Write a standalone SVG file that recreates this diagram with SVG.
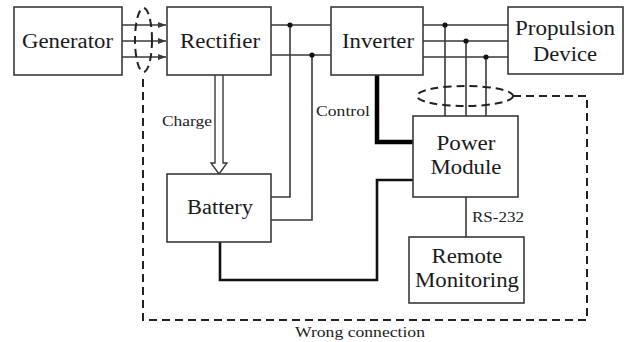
<svg xmlns="http://www.w3.org/2000/svg" width="625" height="342" viewBox="0 0 625 342">
<style>
.box{fill:#fff;stroke:#3a3a3a;stroke-width:1.6}
.t{font-family:"Liberation Serif","DejaVu Serif",serif;font-size:20px;fill:#1a1a1a;text-anchor:middle}
.l{font-family:"Liberation Serif","DejaVu Serif",serif;font-size:15px;fill:#222;text-anchor:middle}
.w{fill:none;stroke:#3a3a3a;stroke-width:1.6}
.d{fill:none;stroke:#222;stroke-width:2;stroke-dasharray:8 5}
.dot{fill:#111}
</style>
<defs>
<marker id="ah" markerWidth="8" markerHeight="6" refX="8" refY="3" orient="auto" markerUnits="userSpaceOnUse">
<path d="M0,0 L8,3 L0,6 Z" fill="#3a3a3a"/>
</marker>
</defs>
<g id="connectors">
<line class="w" x1="122" y1="25" x2="166" y2="25" marker-end="url(#ah)"/>
<line class="w" x1="122" y1="41" x2="166" y2="41" marker-end="url(#ah)"/>
<line class="w" x1="122" y1="57" x2="166" y2="57" marker-end="url(#ah)"/>
<ellipse class="d" cx="143.5" cy="40" rx="8.5" ry="32" stroke-dasharray="7 5"/>
<path class="w" d="M271,25 H331 M271,55 H331"/>
<path class="w" d="M271,197 H290 V25 M271,220 H312 V55"/>
<circle class="dot" cx="290" cy="25" r="2.6"/>
<circle class="dot" cx="312" cy="55" r="2.6"/>
<path d="M215,75 V163 H211 L219,174 L227,163 H223 V75" fill="#fff" stroke="#3a3a3a" stroke-width="1.4"/>
<path class="w" d="M423,25 H508 M423,41 H508 M423,57 H508"/>
<path class="w" d="M445,25 V116 M466,41 V116 M486,57 V116"/>
<circle class="dot" cx="445" cy="25" r="2.6"/>
<circle class="dot" cx="466" cy="41" r="2.6"/>
<circle class="dot" cx="486" cy="57" r="2.6"/>
<path d="M377,75 V142 H413" fill="none" stroke="#000" stroke-width="4.5"/>
<path d="M220,242 V280 H377 V180 H413" fill="none" stroke="#111" stroke-width="2.6"/>
<path class="w" d="M466,197 V237"/>
<ellipse class="d" cx="465" cy="96" rx="48" ry="10"/>
<path class="d" d="M513,96 H587 V320 H143 V74"/>
<text class="l" x="187" y="126" textLength="50" lengthAdjust="spacingAndGlyphs">Charge</text>
<text class="l" x="343" y="116" textLength="54" lengthAdjust="spacingAndGlyphs">Control</text>
<text class="l" x="498" y="222" textLength="52" lengthAdjust="spacingAndGlyphs">RS-232</text>
<text class="l" x="360" y="337" textLength="130" lengthAdjust="spacingAndGlyphs">Wrong connection</text>
</g>
<g id="generator">
<rect class="box" x="14" y="7" width="108" height="68"/>
<text class="t" x="67.5" y="48" textLength="91" lengthAdjust="spacingAndGlyphs">Generator</text>
</g>
<g id="rectifier">
<rect class="box" x="167" y="7" width="104" height="68"/>
<text class="t" x="220" y="48" textLength="80" lengthAdjust="spacingAndGlyphs">Rectifier</text>
</g>
<g id="inverter">
<rect class="box" x="331" y="7" width="92" height="68"/>
<text class="t" x="378" y="48" textLength="72" lengthAdjust="spacingAndGlyphs">Inverter</text>
</g>
<g id="propulsion">
<rect class="box" x="508" y="7" width="115" height="67"/>
<text class="t" x="565" y="35" textLength="100" lengthAdjust="spacingAndGlyphs">Propulsion</text>
<text class="t" x="565" y="61" textLength="64" lengthAdjust="spacingAndGlyphs">Device</text>
</g>
<g id="battery">
<rect class="box" x="167" y="174" width="104" height="68"/>
<text class="t" x="220" y="214" textLength="66" lengthAdjust="spacingAndGlyphs">Battery</text>
</g>
<g id="power-module">
<rect class="box" x="413" y="116" width="105" height="81"/>
<text class="t" x="466" y="150" textLength="59" lengthAdjust="spacingAndGlyphs">Power</text>
<text class="t" x="466" y="174" textLength="71" lengthAdjust="spacingAndGlyphs">Module</text>
</g>
<g id="remote-monitoring">
<rect class="box" x="409" y="237" width="115" height="66"/>
<text class="t" x="467" y="263" textLength="71" lengthAdjust="spacingAndGlyphs">Remote</text>
<text class="t" x="467" y="287" textLength="104" lengthAdjust="spacingAndGlyphs">Monitoring</text>
</g>
</svg>
